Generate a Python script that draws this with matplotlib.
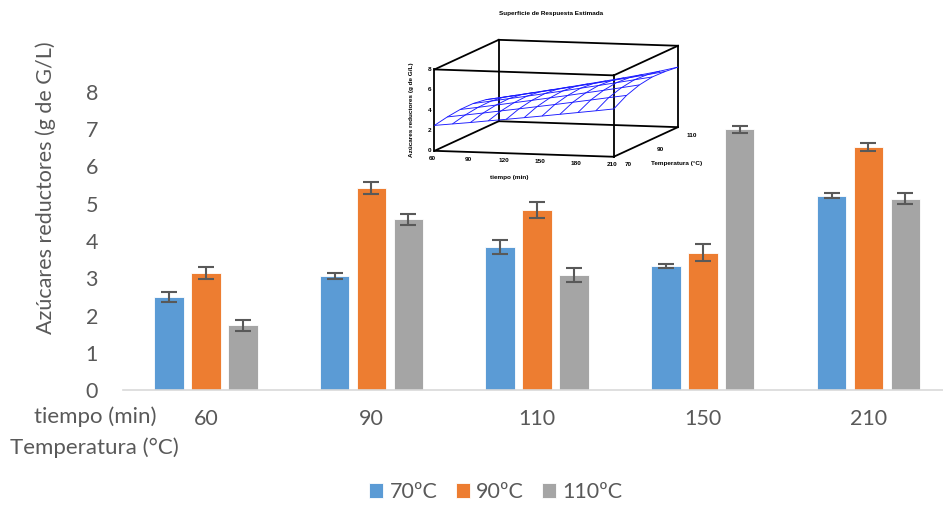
import matplotlib
matplotlib.use("Agg")
import matplotlib.pyplot as plt
import matplotlib.transforms as mtransforms
from mpl_toolkits.mplot3d import proj3d
import numpy as np

# bar data: reducing sugars per time, one series per temperature
tiempos = ["60", "90", "110", "150", "210"]
series = ["70ºC", "90ºC", "110ºC"]
val_70 = [2.50, 3.06, 3.84, 3.33, 5.22]
val_90 = [3.14, 5.42, 4.83, 3.69, 6.52]
val_110 = [1.74, 4.58, 3.09, 7.00, 5.14]
err_70 = [0.13, 0.09, 0.18, 0.05, 0.07]
err_90 = [0.16, 0.16, 0.21, 0.24, 0.10]
err_110 = [0.15, 0.14, 0.18, 0.09, 0.15]
colores = ["#5B9BD5", "#ED7D31", "#A5A5A5"]

# estimated response surface (rows: temperature, cols: time)
sup_t = [60, 75, 90, 105, 120, 135, 150, 165, 180, 195, 210]
sup_T = [70, 78, 86, 94, 102, 110]
sup_z = [
    [2.50, 2.70, 2.90, 3.12, 3.33, 3.55, 3.77, 4.00, 4.23, 4.46, 4.70],
    [2.75, 3.00, 3.25, 3.52, 3.78, 4.05, 4.32, 4.60, 4.88, 5.17, 5.45],
    [2.90, 3.17, 3.45, 3.74, 4.03, 4.33, 4.63, 4.94, 5.25, 5.57, 5.90],
    [2.90, 3.20, 3.50, 3.80, 4.11, 4.43, 4.76, 5.08, 5.42, 5.76, 6.10],
    [2.70, 3.00, 3.32, 3.64, 3.97, 4.30, 4.64, 4.98, 5.33, 5.68, 6.05],
    [2.30, 2.62, 2.95, 3.28, 3.62, 3.97, 4.32, 4.68, 5.05, 5.45, 5.90],
]
sup_ticks_t = [60, 90, 120, 150, 180, 210]
sup_ticks_T = [70, 90, 110]
sup_ticks_z = [0, 2, 4, 6, 8]

gris = "#595959"
plt.rcParams["font.family"] = ["Lato", "DejaVu Sans"]
tam = 15.5

fig = plt.figure(figsize=(9.43, 5.05), dpi=100)
ax = fig.add_axes([123 / 943, 115 / 505, 820 / 943, 298 / 505])

x = np.arange(len(tiempos))
ancho = 0.178
paso = 0.223
for i, (vals, errs) in enumerate(zip([val_70, val_90, val_110], [err_70, err_90, err_110])):
    ax.bar(x + (i - 1) * paso, vals, width=ancho, color=colores[i], edgecolor="white",
           linewidth=0.6, label=series[i], zorder=2)
    ax.errorbar(x + (i - 1) * paso, vals, yerr=errs, fmt="none", ecolor=gris,
                elinewidth=1.5, capsize=5.5, capthick=1.5, zorder=3)

ax.set_xlim(-0.5, 4.45)
ax.set_ylim(0, 8)
ax.set_yticks(range(0, 9))
ax.tick_params(axis="y", length=0, labelsize=tam, labelcolor=gris, pad=18)
ax.set_xticks(x)
ax.set_xticklabels(tiempos)
ax.tick_params(axis="x", length=0, labelsize=tam, labelcolor=gris, pad=14)
for s in ["top", "right", "left"]:
    ax.spines[s].set_visible(False)
ax.spines["bottom"].set_color("#D9D9D9")
ax.spines["bottom"].set_linewidth(1.2)

ax.set_ylabel("Azúcares reductores (g de G/L)", fontsize=tam, color=gris)
ax.yaxis.set_label_coords(-0.082, 0.68)
fig.text(157 / 943, 1 - 417 / 505, "tiempo (min)", ha="right", va="center",
         fontsize=16, color=gris)
fig.text(10 / 943, 1 - 448 / 505, "Temperatura (°C)", ha="left", va="center",
         fontsize=16, color=gris)

ax.legend(loc="center", bbox_to_anchor=(496 / 943, 1 - 492 / 505),
          bbox_transform=fig.transFigure, ncol=3, frameon=False, fontsize=tam,
          labelcolor=gris, handlelength=0.65, handleheight=0.65, handletextpad=0.3,
          columnspacing=0.85)

# inset: response surface
ins = fig.add_axes([256 / 943, 1 - 258 / 505, 592 / 943, 311 / 505], projection="3d",
                   proj_type="ortho")
ins.set_axis_off()
ins.patch.set_facecolor("none")
T_grid, t_grid = np.meshgrid(sup_T, sup_t, indexing="ij")
ins.plot_wireframe(t_grid, T_grid, np.array(sup_z), color="#1A1AFF", linewidth=0.65)
xl, yl, zl = (60, 210), (70, 110), (0, 8)
ins.set_xlim(xl)
ins.set_ylim(yl)
ins.set_zlim(zl)
ins.view_init(elev=7.1, azim=-75)
ins.set_box_aspect((0.973, 1.30, 0.43))

# box edges from the axis limits
for a in xl:
    for b in yl:
        ins.plot([a, a], [b, b], zl, color="black", lw=1.3)
for a in xl:
    for c in zl:
        ins.plot([a, a], yl, [c, c], color="black", lw=1.3)
for b in yl:
    for c in zl:
        ins.plot(xl, [b, b], [c, c], color="black", lw=1.3)

# tick labels placed at projected edge positions
fig.canvas.draw()
M = ins.get_proj()
f3 = dict(fontsize=4.6, fontweight="bold", family=["Liberation Sans", "DejaVu Sans"])


def etiqueta(px, py, pz, s, dx, dy, **kw):
    x2, y2, _ = proj3d.proj_transform(px, py, pz, M)
    tr = mtransforms.offset_copy(ins.transData, fig=fig, x=dx, y=dy, units="dots")
    ins.text2D(x2, y2, s, transform=tr, **kw, **f3)


for z in sup_ticks_z:
    etiqueta(60, 70, z, str(z), -3, 0, ha="right", va="center")
for t in sup_ticks_t:
    etiqueta(t, 70, 0, str(t), -2, -5, ha="center", va="top")
for T in sup_ticks_T:
    etiqueta(210, T, 0, str(T), 14, -8, ha="center", va="center")

fig.text(509 / 943, 1 - 177 / 505, "tiempo (min)", ha="center", va="center", **f3)
fig.text(677 / 943, 1 - 163 / 505, "Temperatura (°C)", ha="center", va="center", **f3)
fig.text(412 / 943, 1 - 110 / 505, "Azúcares reductores (g de G/L)", ha="center",
         va="center", rotation=90, **f3)
fig.text(551 / 943, 1 - 14 / 505, "Superficie de Respuesta Estimada", ha="center",
         va="center", **f3)

fig.savefig("out.png", dpi=100)
